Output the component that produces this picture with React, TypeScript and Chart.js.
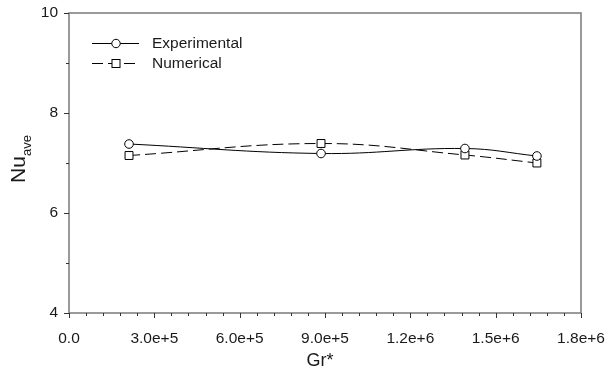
import React, { useEffect, useRef } from "react";
import Chart from "chart.js/auto";

const grStar = [2.11e5, 8.86e5, 1.392e6, 1.645e6];
const experimental = [7.38, 7.19, 7.29, 7.14];
const numerical = [7.15, 7.39, 7.16, 7.0];
const seriesNames = ["Experimental", "Numerical"];
const xMajorTicks = [0, 3e5, 6e5, 9e5, 1.2e6, 1.5e6, 1.8e6];
const xTickLabels = ["0.0", "3.0e+5", "6.0e+5", "9.0e+5", "1.2e+6", "1.5e+6", "1.8e+6"];
const xMinorStep = 6e4;
const yMajorTicks = [4, 6, 8, 10];
const yMinorTicks = [5, 7, 9];
const xTitle = "Gr*";
const yTitleMain = "Nu";
const yTitleSub = "ave";

const FONT = "'Liberation Sans', Arial, sans-serif";
const AXIS_COLOR = "#7a7a7a";
const TEXT_COLOR = "#1a1a1a";

const decorPlugin = {
  id: "decor",
  afterDraw(chart: any) {
    const ctx = chart.ctx;
    const { left, right, top, bottom } = chart.chartArea;
    const xs = chart.scales.x;
    const ys = chart.scales.y;
    ctx.save();
    // frame
    ctx.strokeStyle = AXIS_COLOR;
    ctx.lineWidth = 1.5;
    ctx.beginPath();
    ctx.rect(left, top, right - left, bottom - top);
    ctx.stroke();
    // ticks
    ctx.strokeStyle = "#333";
    ctx.lineWidth = 1;
    ctx.beginPath();
    for (let v = 0; v <= 1.8e6 + 1; v += xMinorStep) {
      const px = Math.round(xs.getPixelForValue(v)) + 0.5;
      const isMajor = xMajorTicks.some((t) => Math.abs(t - v) < 1);
      ctx.moveTo(px, bottom);
      ctx.lineTo(px, bottom + (isMajor ? 5 : 3));
    }
    yMajorTicks.forEach((v) => {
      const py = Math.round(ys.getPixelForValue(v)) + 0.5;
      ctx.moveTo(left, py);
      ctx.lineTo(left - 5, py);
    });
    yMinorTicks.forEach((v) => {
      const py = Math.round(ys.getPixelForValue(v)) + 0.5;
      ctx.moveTo(left, py);
      ctx.lineTo(left - 3, py);
    });
    ctx.stroke();

    // x title
    ctx.fillStyle = TEXT_COLOR;
    ctx.font = `18px ${FONT}`;
    ctx.textAlign = "center";
    ctx.textBaseline = "middle";
    ctx.fillText(xTitle, 320, 361);

    // y title with subscript
    ctx.translate(25, 159);
    ctx.rotate(-Math.PI / 2);
    ctx.font = `21px ${FONT}`;
    const wMain = ctx.measureText(yTitleMain).width;
    ctx.font = `13px ${FONT}`;
    const wSub = ctx.measureText(yTitleSub).width;
    const total = wMain + wSub;
    ctx.textBaseline = "alphabetic";
    ctx.textAlign = "left";
    ctx.font = `21px ${FONT}`;
    ctx.fillText(yTitleMain, -total / 2, 0);
    ctx.font = `13px ${FONT}`;
    ctx.fillText(yTitleSub, -total / 2 + wMain, 6);
    ctx.setTransform(1, 0, 0, 1, 0, 0);

    // legend
    const lx1 = 92, lx2 = 139, mx = 116, tx = 152;
    const y1 = 43, y2 = 63;
    ctx.strokeStyle = "#000";
    ctx.lineWidth = 1;
    ctx.setLineDash([]);
    ctx.beginPath();
    ctx.moveTo(lx1, y1 + 0.5);
    ctx.lineTo(lx2, y1 + 0.5);
    ctx.stroke();
    ctx.beginPath();
    ctx.arc(mx, y1 + 0.5, 4.2, 0, Math.PI * 2);
    ctx.fillStyle = "#fff";
    ctx.fill();
    ctx.stroke();
    ctx.setLineDash([11, 5]);
    ctx.beginPath();
    ctx.moveTo(lx1, y2 + 0.5);
    ctx.lineTo(lx2, y2 + 0.5);
    ctx.stroke();
    ctx.setLineDash([]);
    ctx.fillStyle = "#fff";
    ctx.fillRect(mx - 4, y2 - 3.5, 8, 8);
    ctx.strokeRect(mx - 4, y2 - 3.5, 8, 8);
    ctx.fillStyle = TEXT_COLOR;
    ctx.font = `15.5px ${FONT}`;
    ctx.textBaseline = "middle";
    ctx.fillText(seriesNames[0], tx, y1 + 1);
    ctx.fillText(seriesNames[1], tx, y2 + 1);
    ctx.restore();
  },
};

export default function App() {
  const ref = useRef<HTMLCanvasElement | null>(null);
  useEffect(() => {
    document.body.style.margin = "0";
    const chart = new Chart(ref.current as HTMLCanvasElement, {
      type: "line",
      data: {
        datasets: [
          {
            label: seriesNames[0],
            data: grStar.map((x, i) => ({ x, y: experimental[i] })),
            borderColor: "#000",
            borderWidth: 1,
            backgroundColor: "#fff",
            pointStyle: "circle",
            pointRadius: 4.3,
            pointBorderWidth: 1,
            pointBackgroundColor: "#fff",
            pointBorderColor: "#000",
            tension: 0.4,
          },
          {
            label: seriesNames[1],
            data: grStar.map((x, i) => ({ x, y: numerical[i] })),
            borderColor: "#000",
            borderWidth: 1,
            borderDash: [11, 5],
            backgroundColor: "#fff",
            pointStyle: "rect",
            pointRadius: 5.6,
            pointBorderWidth: 1,
            pointBackgroundColor: "#fff",
            pointBorderColor: "#000",
            tension: 0.4,
          },
        ],
      },
      options: {
        animation: false,
        responsive: true,
        maintainAspectRatio: false,
        layout: { padding: { top: 13, right: 27, left: 0, bottom: 0 } },
        plugins: { legend: { display: false }, tooltip: { enabled: false } },
        scales: {
          x: {
            type: "linear",
            min: 0,
            max: 1.8e6,
            afterBuildTicks: (scale: any) => {
              scale.ticks = xMajorTicks.map((v) => ({ value: v }));
            },
            afterFit: (scale: any) => {
              scale.height = 61;
              scale.paddingLeft = 0;
              scale.paddingRight = 0;
            },
            ticks: {
              autoSkip: false,
              maxRotation: 0,
              padding: 16,
              color: TEXT_COLOR,
              font: { family: FONT, size: 15.5 },
              callback: (v: any) => {
                const i = xMajorTicks.findIndex((t) => Math.abs(t - v) < 1);
                return i >= 0 ? xTickLabels[i] : "";
              },
            },
            grid: { display: false, drawTicks: false },
            border: { display: false },
          },
          y: {
            type: "linear",
            min: 4,
            max: 10,
            afterBuildTicks: (scale: any) => {
              scale.ticks = yMajorTicks.map((v) => ({ value: v }));
            },
            afterFit: (scale: any) => {
              scale.width = 69;
              scale.paddingTop = 0;
              scale.paddingBottom = 0;
            },
            ticks: {
              padding: 11,
              color: TEXT_COLOR,
              font: { family: FONT, size: 15.5 },
            },
            grid: { display: false, drawTicks: false },
            border: { display: false },
          },
        },
      },
      plugins: [decorPlugin],
    } as any);
    return () => chart.destroy();
  }, []);
  return (
    <div style={{ width: 608, height: 374, position: "relative" }}>
      <canvas ref={ref} />
    </div>
  );
}
